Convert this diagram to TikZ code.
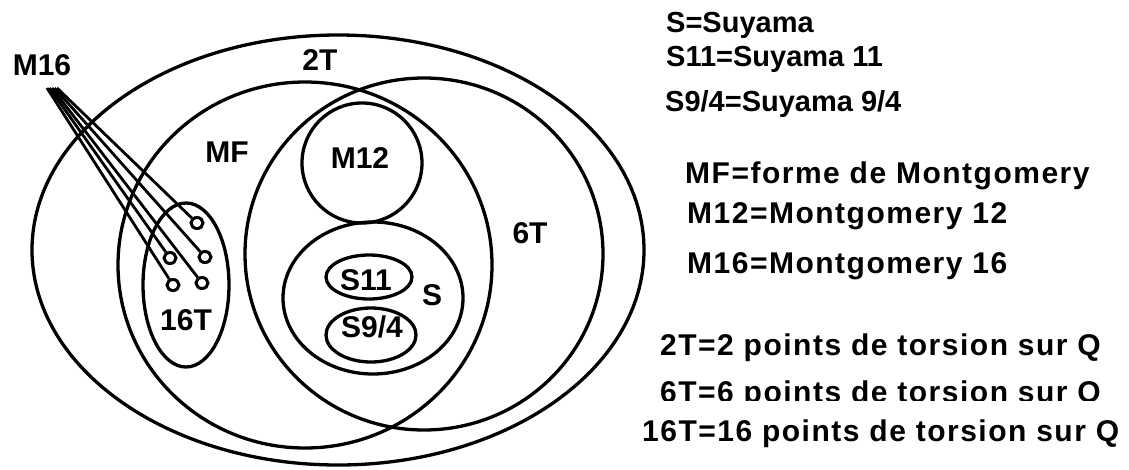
\documentclass[tikz,border=0pt]{standalone}
\usepackage{fontspec}
\setmainfont{Liberation Sans}
\newfontfamily\widefont{Liberation Sans}[LetterSpace=5]
\usetikzlibrary{shapes.geometric}
\begin{document}
\begin{tikzpicture}[x=1pt,y=-1pt,
  setbox/.style={draw, ellipse, line width=3.3pt, inner sep=0pt},
  lbl/.style={inner sep=0pt, anchor=base, font=\fontsize{30}{31}\selectfont\bfseries},
  leg/.style={inner sep=0pt, anchor=base west, font=\fontsize{29}{30}\selectfont\bfseries},
  legw/.style={inner sep=0pt, anchor=base west, font=\fontsize{30}{31}\selectfont\widefont\bfseries},
  ptbox/.style={draw, ellipse, line width=3pt, minimum width=12pt, minimum height=11pt, inner sep=0pt},
  link/.style={line width=2.8pt}]
\useasboundingbox (0,0) rectangle (1129,469);

% sets
\node[setbox, minimum width=612, minimum height=430] (twoT) at (338,250) {};
\node[setbox, minimum width=358, minimum height=352] (sixT) at (424,254) {};
\node[setbox, minimum width=374, minimum height=366] (mf) at (305,265) {};
\node[setbox, minimum width=120, minimum height=120] (m12) at (362,163) {};
\node[setbox, minimum width=180, minimum height=152] (s) at (373,298) {};
\node[setbox, minimum width=86, minimum height=44] (s11) at (369,277) {};
\node[setbox, minimum width=90, minimum height=54] (s94) at (371,335) {};
\node[setbox, minimum width=86, minimum height=164] (t16) at (186,285) {};

% points of M16
\node[ptbox] (p1) at (197,223) {};
\node[ptbox] (p2) at (170,258) {};
\node[ptbox] (p3) at (205,257) {};
\node[ptbox] (p4) at (173,285) {};
\node[ptbox] (p5) at (202,283) {};

% labels
\node[lbl] (lm16) at (42,75) {M16};
\node[lbl] (l2t) at (320,70) {2T};
\node[lbl] (lmf) at (227,162) {MF};
\node[lbl] (lm12) at (360,168) {M12};
\node[lbl] (ls11) at (366,290) {S11};
\node[lbl] (ls94) at (372,337) {S9/4};
\node[lbl] (ls) at (432,305) {S};
\node[lbl] (l16t) at (186,330) {16T};
\node[lbl] (l6t) at (530,243) {6T};

% connectors from M16
\coordinate (c1) at (47,88);
\coordinate (c2) at (49.5,88);
\coordinate (c3) at (52,88);
\coordinate (c4) at (54.5,88);
\coordinate (c5) at (57,88);
\draw[link] (c1) -- (p4);
\draw[link] (c2) -- (p2);
\draw[link] (c3) -- (p5);
\draw[link] (c4) -- (p3);
\draw[link] (c5) -- (p1);

% legend
\node[leg] (g1) at (666,32) {S=Suyama};
\node[leg] (g2) at (666,66) {S11=Suyama 11};
\node[leg] (g3) at (665,111) {S9/4=Suyama 9/4};
\node[legw] (g4) at (685,183) {MF=forme de Montgomery};
\node[legw] (g5) at (687,223) {M12=Montgomery 12};
\node[legw] (g6) at (687,273) {M16=Montgomery 16};
\node[legw] (g7) at (660,355) {2T=2 points de torsion sur Q};
\begin{scope}
\clip (600,360) rectangle (1129,400);
\node[legw] (g8) at (660,402) {6T=6 points de torsion sur Q};
\end{scope}
\node[legw] (g9) at (642,441) {16T=16 points de torsion sur Q};
\end{tikzpicture}
\end{document}
